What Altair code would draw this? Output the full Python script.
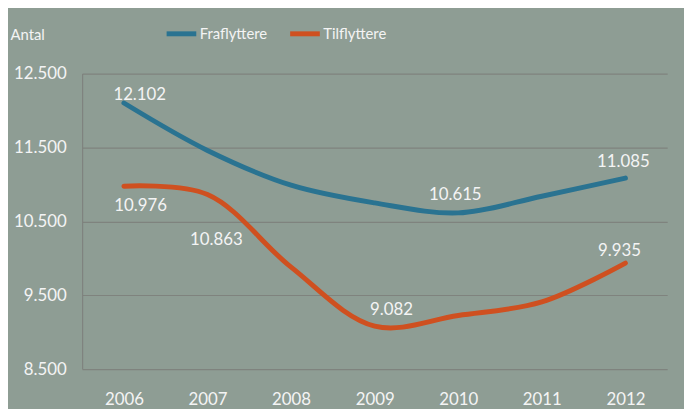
import altair as alt
import pandas as pd

years = ["2006", "2007", "2008", "2009", "2010", "2011", "2012"]
fraflyttere = [12102, 11460, 10990, 10750, 10615, 10840, 11085]
tilflyttere = [10976, 10863, 9880, 9082, 9225, 9410, 9935]
series_names = ["Fraflyttere", "Tilflyttere"]
y_ticks = [8500, 9500, 10500, 11500, 12500]

# which points carry a value label (series, year)
labelled = [
    ("Fraflyttere", "2006"), ("Tilflyttere", "2006"), ("Tilflyttere", "2007"),
    ("Tilflyttere", "2009"), ("Fraflyttere", "2010"), ("Fraflyttere", "2012"),
    ("Tilflyttere", "2012"),
]
# label offsets (style only)
label_offsets = [(16, -8), (17, 20), (9, 46), (17, -16), (-3, -18), (-2, -16), (-6, -12)]

rows = []
for name, vals in zip(series_names, [fraflyttere, tilflyttere]):
    for y, v in zip(years, vals):
        rows.append({"year": y, "series": name, "value": v})
df = pd.DataFrame(rows)

BG = "#8E9D94"
GRID = "#7F837E"
BLUE = "#2A7391"
ORANGE = "#CF5020"
TXT = "#F4F4F4"
FONT = "Lato"

x_enc = alt.X("year:O", sort=years, scale=alt.Scale(type="point", padding=0.5),
              axis=alt.Axis(title=None, labelAngle=0, domain=False, ticks=False,
                            labelPadding=23, labelFontSize=17, labelColor=TXT,
                            labelFont=FONT, grid=False))
y_enc = alt.Y("value:Q", scale=alt.Scale(domain=[8500, 12500], nice=False, zero=False),
              axis=alt.Axis(values=y_ticks, title="Antal", titleAngle=0,
                            titleX=-73, titleY=-39, titleAlign="left",
                            titleBaseline="middle", titleFontSize=15,
                            titleFontWeight="normal", titleColor=TXT, titleFont=FONT,
                            labelExpr="replace(format(datum.value, ','), ',', '.')",
                            labelFontSize=17, labelColor=TXT, labelFont=FONT,
                            labelPadding=16, ticks=False, domain=True,
                            domainColor=GRID, domainWidth=1.2,
                            gridColor=GRID, gridWidth=1.2))

base = alt.Chart(df)

lines = base.mark_line(interpolate="catmull-rom", strokeWidth=5, strokeCap="round").encode(
    x=x_enc, y=y_enc,
    color=alt.Color("series:N", scale=alt.Scale(domain=series_names, range=[BLUE, ORANGE]),
                    legend=alt.Legend(title=None, orient="none", legendX=83, legendY=-58,
                                      direction="horizontal", symbolType="stroke",
                                      symbolStrokeWidth=5, symbolSize=900,
                                      labelFontSize=15, labelColor=TXT, labelFont=FONT,
                                      labelOffset=1, columnPadding=12)),
)

layers = [lines]
for (s, yr), (dx, dy) in zip(labelled, label_offsets):
    t = base.mark_text(dx=dx, dy=dy, fontSize=17, font=FONT, color=TXT,
                       align="center", baseline="middle").encode(
        x=alt.X("year:O", sort=years, scale=alt.Scale(type="point", padding=0.5)),
        y=alt.Y("value:Q"),
        text=alt.Text("lbl:N"),
    ).transform_filter(
        (alt.datum.series == s) & (alt.datum.year == yr)
    ).transform_calculate(
        lbl="replace(format(datum.value, ','), ',', '.')"
    )
    layers.append(t)

chart = alt.layer(*layers).properties(
    width=592, height=299,
    autosize=alt.AutoSizeParams(type="none"),
    padding={"left": 75, "top": 64, "right": 17, "bottom": 38},
    background=BG,
).configure_view(stroke=None)

chart.save("out.html", embed_options={"renderer": "svg", "actions": False})
